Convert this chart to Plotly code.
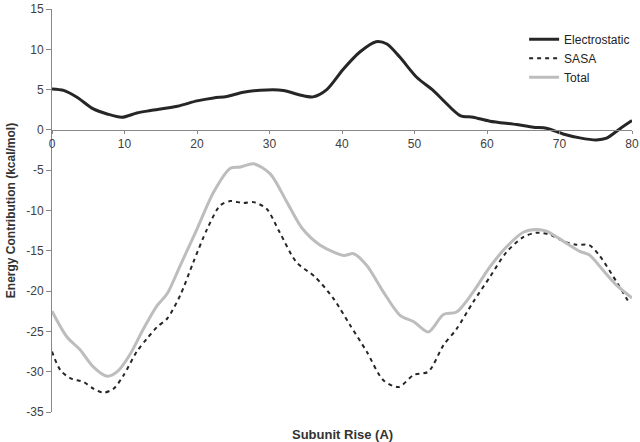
import plotly.graph_objects as go

# Electrostatic
elec_x = [0, 1.6, 3.45, 5.7, 7.6, 9.65, 11.7, 13.6, 17.3, 20, 22.3, 24.1, 26.4, 29.6, 31.9,
          34.2, 36.0, 37.9, 40.2, 42.5, 44.7, 46.2, 48.0, 50.3, 52.6, 54.0, 56.3, 58.1,
          60.4, 64.1, 66.4, 68.2, 70.5, 72.8, 75.1, 76.5, 78.3, 80]
elec_y = [5.08, 4.9, 4.05, 2.6, 1.98, 1.57, 2.1, 2.4, 2.94, 3.6, 3.97, 4.14, 4.67, 4.96, 4.9,
          4.34, 4.1, 5.0, 7.56, 9.7, 10.95, 10.66, 9.0, 6.53, 4.88, 3.64, 1.78, 1.57,
          1.08, 0.67, 0.33, 0.21, -0.5, -0.99, -1.24, -1.03, 0.12, 1.16]

# SASA
sasa_x = [0, 1.15, 2.5, 4.4, 5.7, 7.1, 8.5, 9.9, 11.7, 13.1, 14.5, 15.9, 17.7, 19.5, 21.4,
          23.2, 24.6, 26.4, 27.8, 29.6, 31.4, 33.7, 36.3, 38.8, 41.1, 43.4, 45.7, 47.8,
          49.9, 51.9, 54.0, 55.8, 58.1, 60.4, 62.7, 65.0, 66.8, 68.7, 70.5, 72.3, 74.1,
          75.5, 77.9, 79.7]
sasa_y = [-27.5, -29.8, -30.8, -31.3, -32.1, -32.6, -32.1, -30.4, -27.5, -25.9, -24.45, -23.4,
          -20.5, -16.4, -12.3, -9.37, -8.83, -9.08, -8.96, -9.79, -12.7, -16.4, -18.25, -20.9,
          -24.2, -27.5, -31.05, -31.9, -30.4, -30.0, -26.7, -24.7, -21.35, -18.25, -15.15,
          -13.3, -12.76, -13.0, -13.8, -14.25, -14.3, -15.57, -18.9, -21.6]

# Total
total_x = [0, 2.07, 3.9, 5.7, 7.6, 9.0, 10.8, 12.6, 14.5, 15.9, 17.7, 20, 22.3, 24.6, 26,
           27.8, 30.1, 32.4, 34.5, 37.0, 40.2, 41.6, 43.4, 45.7, 48.0, 49.9, 51.9, 54.0,
           55.8, 58.1, 60.4, 62.7, 65.0, 66.8, 68.2, 70.5, 72.8, 74.1, 76.0, 77.9, 80]
total_y = [-22.5, -25.7, -27.3, -29.4, -30.56, -30.0, -27.8, -24.7, -21.8, -20.3, -16.8, -12.3,
           -7.7, -4.75, -4.6, -4.2, -5.45, -8.96, -12.2, -14.3, -15.57, -15.36, -16.8, -20.1,
           -23.0, -23.8, -25.07, -22.9, -22.6, -20.1, -17.0, -14.5, -12.7, -12.35, -12.55,
           -13.8, -15.07, -15.5, -17.4, -19.3, -20.85]

x_ticks = [0, 10, 20, 30, 40, 50, 60, 70, 80]
y_ticks = [15, 10, 5, 0, -5, -10, -15, -20, -25, -30, -35]
y_labels = ['15', '10', '5', '0', '-5', '-10', '-15', '-20', '-25', '-30', '-35']

font = 'Liberation Sans, Arial, sans-serif'

fig = go.Figure()
fig.add_trace(go.Scatter(x=elec_x, y=elec_y, name='Electrostatic', mode='lines',
                         line=dict(color='#262626', width=3, shape='spline', smoothing=0.8)))
fig.add_trace(go.Scatter(x=sasa_x, y=sasa_y, name='SASA', mode='lines',
                         line=dict(color='#262626', width=2, dash='4px,4px', shape='spline', smoothing=0.8)))
fig.add_trace(go.Scatter(x=total_x, y=total_y, name='Total', mode='lines',
                         line=dict(color='#bdbdbd', width=3, shape='spline', smoothing=0.8)))

fig.update_layout(
    width=640, height=442,
    margin=dict(l=52, r=8, t=9, b=30, autoexpand=False),
    plot_bgcolor='white', paper_bgcolor='white',
    font=dict(family=font, size=12, color='#404040'),
    showlegend=True,
    legend=dict(x=0.814, y=0.878, xanchor='left', yanchor='middle',
                bgcolor='rgba(0,0,0,0)', font=dict(size=12, color='#222222'),
                tracegroupgap=0),
    xaxis=dict(range=[0, 80], tickvals=x_ticks, showgrid=False, zeroline=False,
               showline=True, linecolor='#888888', linewidth=1,
               ticks='outside', ticklen=3, tickcolor='#888888',
               anchor='free', position=0.7, automargin=False),
    yaxis=dict(range=[-35, 15.001], tickvals=y_ticks, ticktext=y_labels, showgrid=False,
               zeroline=False, showline=True, linecolor='#888888', linewidth=1,
               ticks='outside', ticklen=5, tickcolor='#888888', automargin=False,
               title=dict(text='<b>Energy Contribution (kcal/mol)</b>',
                          font=dict(size=12, color='#333333'), standoff=8)),
    annotations=[dict(text='<b>Subunit Rise (A)</b>', x=0.5, y=0, xref='paper', yref='paper',
                      xanchor='center', yanchor='top', yshift=-13, showarrow=False,
                      font=dict(size=13, color='#333333'))],
)

# page body has an 8px default margin; drop it so the figure sits at 0,0
fig.write_html("out.html", config={'displayModeBar': False},
               post_script="document.body.style.margin='0';")
